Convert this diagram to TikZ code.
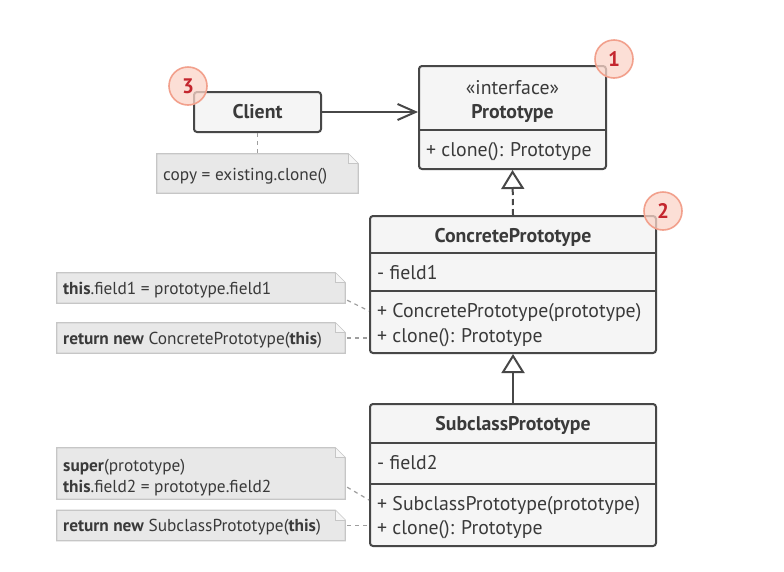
\documentclass[tikz,border=0pt]{standalone}
\usepackage{fontspec}
\setmainfont{PT Sans}
\usetikzlibrary{arrows.meta,calc}
\definecolor{ink}{HTML}{3A3A3A}
\definecolor{edge}{HTML}{474747}
\definecolor{clsfill}{HTML}{F5F5F5}
\definecolor{notefill}{HTML}{E8E8E8}
\definecolor{noteedge}{HTML}{C6C6C6}
\definecolor{badgefill}{HTML}{FBD5C9}
\definecolor{badgeedge}{HTML}{F2A08C}
\definecolor{badgeink}{HTML}{C4262E}
\tikzset{
  clsbox/.style={draw=edge, fill=clsfill, line width=2pt, rounded corners=3pt, inner sep=0pt},
  divider/.style={draw=edge, line width=2pt},
  ctext/.style={text=ink, font=\fontsize{19.8}{24}\selectfont, inner sep=0pt, anchor=base west},
  ttext/.style={text=ink, font=\fontsize{19.8}{24}\selectfont\bfseries, inner sep=0pt, anchor=base},
  notebox/.style={inner sep=0pt},
  ntext/.style={text=ink, font=\fontsize{17.3}{20.5}\selectfont, inner sep=0pt, anchor=base west, align=left},
  notelink/.style={draw=noteedge!80!black, line width=1.2pt, dash pattern=on 4pt off 4pt},
  badge/.style={circle, draw=badgeedge, line width=1.6pt, fill=badgefill, fill opacity=0.75, text opacity=1, minimum size=38pt, inner sep=0pt, text=badgeink, font=\fontsize{21}{22}\selectfont\bfseries},
  conn/.style={draw=edge, line width=2pt},
}
\newcommand{\notedraw}[1]{%
  \draw[fill=notefill, draw=noteedge, line width=1.3pt]
    (#1.north west) -- ([xshift=-10pt]#1.north east) -- ([yshift=-10pt]#1.north east)
    -- (#1.south east) -- (#1.south west) -- cycle;
  \draw[draw=noteedge, line width=1.3pt, fill=white!60!notefill]
    ([xshift=-10pt]#1.north east) -- ([xshift=-10pt,yshift=-10pt]#1.north east) -- ([yshift=-10pt]#1.north east);
}
\begin{document}
\begin{tikzpicture}[x=1pt,y=-1pt]
\useasboundingbox (0,0) rectangle (784,571);
\fill[white] (0,0) rectangle (784,571);

% ---------- Client ----------
\node[clsbox, minimum width=127pt, minimum height=40pt] (client) at (257.5,112) {};
\node[ttext] (clientT) at (257.5,118) {Client};

% note for client
\node[notebox, minimum width=201pt, minimum height=39pt] (nc) at (257.5,173.5) {};
\notedraw{nc}
\node[ntext] (ncT) at (163,180) {copy = existing.clone()};
\draw[notelink] (client.south) -- (nc.north);

% ---------- Prototype ----------
\node[clsbox, minimum width=187pt, minimum height=103pt] (proto) at (512.5,117.5) {};
\coordinate (pdiv) at (419,130);
\draw[divider] (pdiv) -- (proto.east |- pdiv);
\node[text=ink, font=\fontsize{19.8}{24}\selectfont, inner sep=0pt, anchor=base] (protoS) at (512.5,94) {«interface»};
\node[ttext] (protoT) at (512.5,118) {Prototype};
\node[ctext] (protoM) at (426,156) {+ clone(): Prototype};

% ---------- ConcretePrototype ----------
\node[clsbox, minimum width=286pt, minimum height=137pt] (cp) at (513,284.5) {};
\coordinate (cdiv1) at (370,253);
\coordinate (cdiv2) at (370,291);
\draw[divider] (cdiv1) -- (cp.east |- cdiv1);
\draw[divider] (cdiv2) -- (cp.east |- cdiv2);
\node[ttext] (cpT) at (513,242) {ConcretePrototype};
\node[ctext] (cpF) at (377,279) {- field1};
\node[ctext] (cpM1) at (377,317) {+ ConcretePrototype(prototype)};
\node[ctext] (cpM2) at (377,342) {+ clone(): Prototype};

% ---------- SubclassPrototype ----------
\node[clsbox, minimum width=286pt, minimum height=142pt] (sp) at (513,475) {};
\coordinate (sdiv1) at (370,443);
\coordinate (sdiv2) at (370,484);
\draw[divider] (sdiv1) -- (sp.east |- sdiv1);
\draw[divider] (sdiv2) -- (sp.east |- sdiv2);
\node[ttext] (spT) at (513,430) {SubclassPrototype};
\node[ctext] (spF) at (377,469.5) {- field2};
\node[ctext] (spM1) at (377,510) {+ SubclassPrototype(prototype)};
\node[ctext] (spM2) at (377,534.5) {+ clone(): Prototype};

% ---------- notes ----------
\node[notebox, minimum width=288pt, minimum height=30pt] (n1) at (201,288) {};
\notedraw{n1}
\node[ntext] (n1T) at (63,294) {\textbf{this}.field1 = prototype.field1};

\node[notebox, minimum width=288pt, minimum height=30pt] (n2) at (201,338) {};
\notedraw{n2}
\node[ntext] (n2T) at (63,344) {\textbf{return new} ConcretePrototype(\textbf{this})};

\node[notebox, minimum width=288pt, minimum height=51pt] (n3) at (201,473.5) {};
\notedraw{n3}
\node[ntext] (n3T) at (63,492) {\textbf{super}(prototype)\\\textbf{this}.field2 = prototype.field2};

\node[notebox, minimum width=288pt, minimum height=30pt] (n4) at (201,525.5) {};
\notedraw{n4}
\node[ntext] (n4T) at (63,531.5) {\textbf{return new} SubclassPrototype(\textbf{this})};

\draw[notelink] ([xshift=2pt,yshift=3pt]n1.south east) -- ([yshift=6pt]cp.west |- cpM1.base);
\draw[notelink] ([xshift=2pt]n2.east) -- (cp.west |- n2.east);
\draw[notelink] ([xshift=2pt,yshift=12pt]n3.south east) -- ([yshift=10pt]sp.west |- spM1.base);
\draw[notelink] ([xshift=2pt]n4.east) -- (sp.west |- n4.east);

% ---------- connectors ----------
\draw[conn, -{Straight Barb[length=18pt,width=16pt,line width=2pt]}] (client.east) -- (proto.west |- client.east);
\draw[conn, dash pattern=on 6pt off 4pt, -{Triangle[open,fill=white,length=19pt,width=23pt,line width=2pt]}] (cp.north) -- (proto.south);
\draw[conn, -{Triangle[open,fill=white,length=19pt,width=23pt,line width=2pt]}] (sp.north) -- (cp.south);

% ---------- badges ----------
\node[badge] (b1) at (614,59) {1};
\node[badge] (b2) at (663,211) {2};
\node[badge] (b3) at (188,86) {3};
\end{tikzpicture}
\end{document}
